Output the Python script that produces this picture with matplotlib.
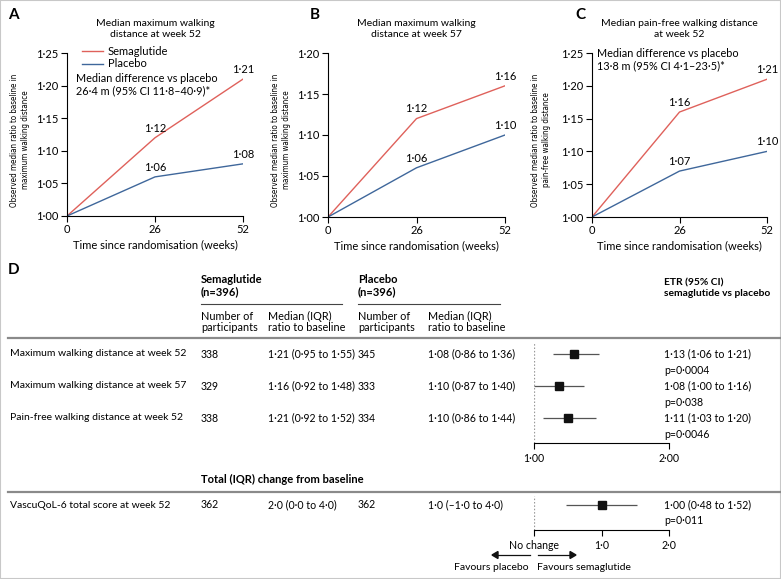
import matplotlib.pyplot as plt
from matplotlib import font_manager
from matplotlib.patches import Rectangle

W, H = 781, 579
RED = "#df615b"
BLUE = "#3f679b"
GREY = "#8a8a8a"

plt.rcParams["font.family"] = ["Lato", "DejaVu Sans"]
plt.rcParams["font.size"] = 7.5

# ---- panels A-C data ----
weeks = [0, 26, 52]
sema_a = [1.00, 1.12, 1.21]
plac_a = [1.00, 1.06, 1.08]
sema_b = [1.00, 1.12, 1.16]
plac_b = [1.00, 1.06, 1.10]
sema_c = [1.00, 1.16, 1.21]
plac_c = [1.00, 1.07, 1.10]

# ---- panel D data ----
outcomes = [
    "Maximum walking distance at week 52",
    "Maximum walking distance at week 57",
    "Pain-free walking distance at week 52",
]
sema_n = [338, 329, 338]
sema_median = ["1·21 (0·95 to 1·55)", "1·16 (0·92 to 1·48)", "1·21 (0·92 to 1·52)"]
plac_n = [345, 333, 334]
plac_median = ["1·08 (0·86 to 1·36)", "1·10 (0·87 to 1·40)", "1·10 (0·86 to 1·44)"]
etr = [1.13, 1.08, 1.11]
etr_lo = [1.06, 1.00, 1.03]
etr_hi = [1.21, 1.16, 1.20]
etr_text = ["1·13 (1·06 to 1·21)", "1·08 (1·00 to 1·16)", "1·11 (1·03 to 1·20)"]
p_text = ["p=0·0004", "p=0·038", "p=0·0046"]

qol_outcome = "VascuQoL-6 total score at week 52"
qol_sema_n = 362
qol_sema = "2·0 (0·0 to 4·0)"
qol_plac_n = 362
qol_plac = "1·0 (–1·0 to 4·0)"
qol_est, qol_lo, qol_hi = 1.00, 0.48, 1.52
qol_text = "1·00 (0·48 to 1·52)"
qol_p = "p=0·011"

NUM = 7.6  # size of numbers in the table

# the y labels in the reference are squeezed: use a narrow face if one exists
_fonts = font_manager.fontManager.ttflist
if any(f.name == "Liberation Sans Narrow" for f in _fonts):
    YLAB = dict(family=["Liberation Sans Narrow", "DejaVu Sans"], fontsize=6.5)
elif any(f.name == "DejaVu Sans" and f.stretch == "condensed" for f in _fonts):
    YLAB = dict(family=["DejaVu Sans"], fontstretch="condensed", fontsize=5.8)
else:
    YLAB = dict(fontsize=5.6)


def fx(x):
    return x / W


def fy(y):
    return 1 - y / H


def add_ax(x0, y0, x1, y1):
    # pixel box (left, top, right, bottom)
    return fig.add_axes([fx(x0), fy(y1), (x1 - x0) / W, (y1 - y0) / H])


def txt(x, y, s, **kw):
    kw.setdefault("va", "center")
    fig.text(fx(x), fy(y), s, **kw)


def hline(x0, x1, y, **kw):
    fig.add_artist(plt.Line2D([fx(x0), fx(x1)], [fy(y), fy(y)], **kw))


def fmt(v):
    return f"{v:.2f}".replace(".", "·")


fig = plt.figure(figsize=(W / 100, H / 100), dpi=100)
fig.patches.append(Rectangle((0, 0), 1, 1, transform=fig.transFigure,
                             fill=False, edgecolor="#c8c8c8", lw=1.5))


def line_panel(box, sema, plac, ymax, letter, letter_x, title, ylabel, ylab_x):
    ax = add_ax(*box)
    ax.plot(weeks, sema, color=RED, lw=1.0, label="Semaglutide")
    ax.plot(weeks, plac, color=BLUE, lw=1.0, label="Placebo")
    for vals in (sema, plac):
        for w, v in zip(weeks[1:], vals[1:]):
            ax.annotate(fmt(v), (w, v), xytext=(0, 3), textcoords="offset points",
                        ha="center", va="bottom", fontsize=8)
    ax.set_xlim(0, 52)
    ax.set_ylim(1.0, ymax)
    ax.set_xticks(weeks)
    yt = [1.0 + 0.05 * i for i in range(int(round((ymax - 1.0) / 0.05)) + 1)]
    ax.set_yticks(yt)
    ax.set_yticklabels([fmt(v) for v in yt])
    ax.spines[["top", "right"]].set_visible(False)
    for s in ("left", "bottom"):
        ax.spines[s].set_linewidth(0.8)
    ax.tick_params(length=4, width=0.8, labelsize=8, pad=2)
    ax.patch.set_alpha(0)
    ax.set_xlabel("Time since randomisation (weeks)", fontsize=8, labelpad=3)
    cx = (box[0] + box[2]) / 2
    txt(cx, 29, title, ha="center", fontsize=7.5, linespacing=1.3)
    txt(letter_x, 15, letter, fontsize=11, fontweight="bold")
    txt(ylab_x, 140, ylabel, ha="center", rotation=90,
        multialignment="center", linespacing=1.4, **YLAB)
    return ax


ax_a = line_panel((67, 53, 243, 216), sema_a, plac_a, 1.25, "A", 8,
                  "Median maximum walking\ndistance at week 52",
                  "Observed median ratio to baseline in\nmaximum walking distance", 20)
ax_a.legend(loc="upper left", bbox_to_anchor=(0.055, 1.075), frameon=False,
            handlelength=1.9, handletextpad=0.4, borderpad=0, labelspacing=0.1,
            fontsize=8)
ax_a.text(0.05, 0.805, "Median difference vs placebo\n26·4 m (95% CI 11·8–40·9)*",
          transform=ax_a.transAxes, fontsize=7.8, va="center", linespacing=1.15)

line_panel((328, 53, 505, 217), sema_b, plac_b, 1.20, "B", 310,
           "Median maximum walking\ndistance at week 57",
           "Observed median ratio to baseline in\nmaximum walking distance", 281)

ax_c = line_panel((592, 53, 767, 217), sema_c, plac_c, 1.25, "C", 575,
                  "Median pain-free walking distance\nat week 52",
                  "Observed median ratio to baseline in\npain-free walking distance", 541)
ax_c.text(0.03, 0.96, "Median difference vs placebo\n13·8 m (95% CI 4·1–23·5)*",
          transform=ax_c.transAxes, fontsize=7.8, va="center", linespacing=1.15)

# ---- panel D table ----
txt(8, 270, "D", fontsize=11, fontweight="bold")
txt(201, 285.5, "Semaglutide\n(n=396)", fontsize=8, fontweight="bold", linespacing=1.05)
txt(358, 285.5, "Placebo\n(n=396)", fontsize=8, fontweight="bold", linespacing=1.05)
txt(664, 288, "ETR (95% CI)\nsemaglutide vs placebo", fontsize=7.4, fontweight="bold",
    linespacing=1.2)
hline(201, 342, 304, color="#444", lw=0.8)
hline(358, 500, 304, color="#444", lw=0.8)
for x0, s in ((201, "Number of\nparticipants"), (268, "Median (IQR)\nratio to baseline"),
              (358, "Number of\nparticipants"), (428, "Median (IQR)\nratio to baseline")):
    txt(x0, 322, s, fontsize=7.8, linespacing=0.98)
hline(8, 781, 338, color=GREY, lw=1.6)

row_y = [354, 386, 418]
for i, y in enumerate(row_y):
    txt(10, y, outcomes[i])
    txt(201, y, str(sema_n[i]), fontsize=NUM)
    txt(268, y, sema_median[i], fontsize=NUM)
    txt(358, y, str(plac_n[i]), fontsize=NUM)
    txt(428, y, plac_median[i], fontsize=NUM)
    txt(664, y, etr_text[i], fontsize=NUM)
    txt(664, y + 16, p_text[i], fontsize=NUM)

# top forest plot
axf = add_ax(534, 343, 669, 443)
rows = list(range(len(etr)))
axf.hlines(rows, etr_lo, etr_hi, color="#555", lw=0.9)
axf.plot(etr, rows, "s", color="#111", ms=5.5)
axf.axvline(1.0, color="#999", lw=0.9, ls=(0, (1.2, 1.5)))
axf.set_xlim(1.0, 1.435)
axf.set_ylim(2.78, -0.34)
axf.set_xticks([1.0, 1.435])
axf.set_xticklabels(["1·00", "2·00"])
axf.set_yticks([])
axf.spines[["top", "right", "left"]].set_visible(False)
axf.spines["bottom"].set_linewidth(0.8)
axf.tick_params(length=4, width=0.8, labelsize=NUM, pad=3)
axf.patch.set_alpha(0)

# VascuQoL section
txt(201, 479, "Total (IQR) change from baseline", fontsize=8, fontweight="bold")
hline(8, 781, 492, color=GREY, lw=1.6)
txt(10, 505, qol_outcome)
txt(201, 505, str(qol_sema_n), fontsize=NUM)
txt(268, 505, qol_sema, fontsize=NUM)
txt(358, 505, str(qol_plac_n), fontsize=NUM)
txt(428, 505, qol_plac, fontsize=NUM)
txt(664, 505, qol_text, fontsize=NUM)
txt(664, 521, qol_p, fontsize=NUM)

axq = add_ax(534, 496, 669, 530)
axq.hlines([0], [qol_lo], [qol_hi], color="#555", lw=0.9)
axq.plot([qol_est], [0], "s", color="#111", ms=5.5)
axq.axvline(0.0, color="#999", lw=0.9, ls=(0, (1.2, 1.5)))
axq.set_xlim(0, 2.0)
axq.set_ylim(0.78, -0.28)
axq.set_xticks([0, 1, 2])
axq.set_xticklabels(["No change", "1·0", "2·0"])
axq.set_yticks([])
axq.spines[["top", "right", "left"]].set_visible(False)
axq.spines["bottom"].set_linewidth(0.8)
axq.tick_params(length=4, width=0.8, labelsize=NUM, pad=3)
axq.patch.set_alpha(0)

# favours arrows
for x0, x1 in ((530, 492), (538, 576)):
    d = 6 if x1 < x0 else -6
    hline(x0, x1 + d / 2, 555, color="#111", lw=0.9)
    fig.patches.append(plt.Polygon(
        [(fx(x1), fy(555)), (fx(x1 + d), fy(551.5)), (fx(x1 + d), fy(558.5))],
        closed=True, color="#111", transform=fig.transFigure))
txt(529, 568, "Favours placebo", ha="right")
txt(537, 568, "Favours semaglutide", ha="left")

fig.savefig("out.png", dpi=100)
